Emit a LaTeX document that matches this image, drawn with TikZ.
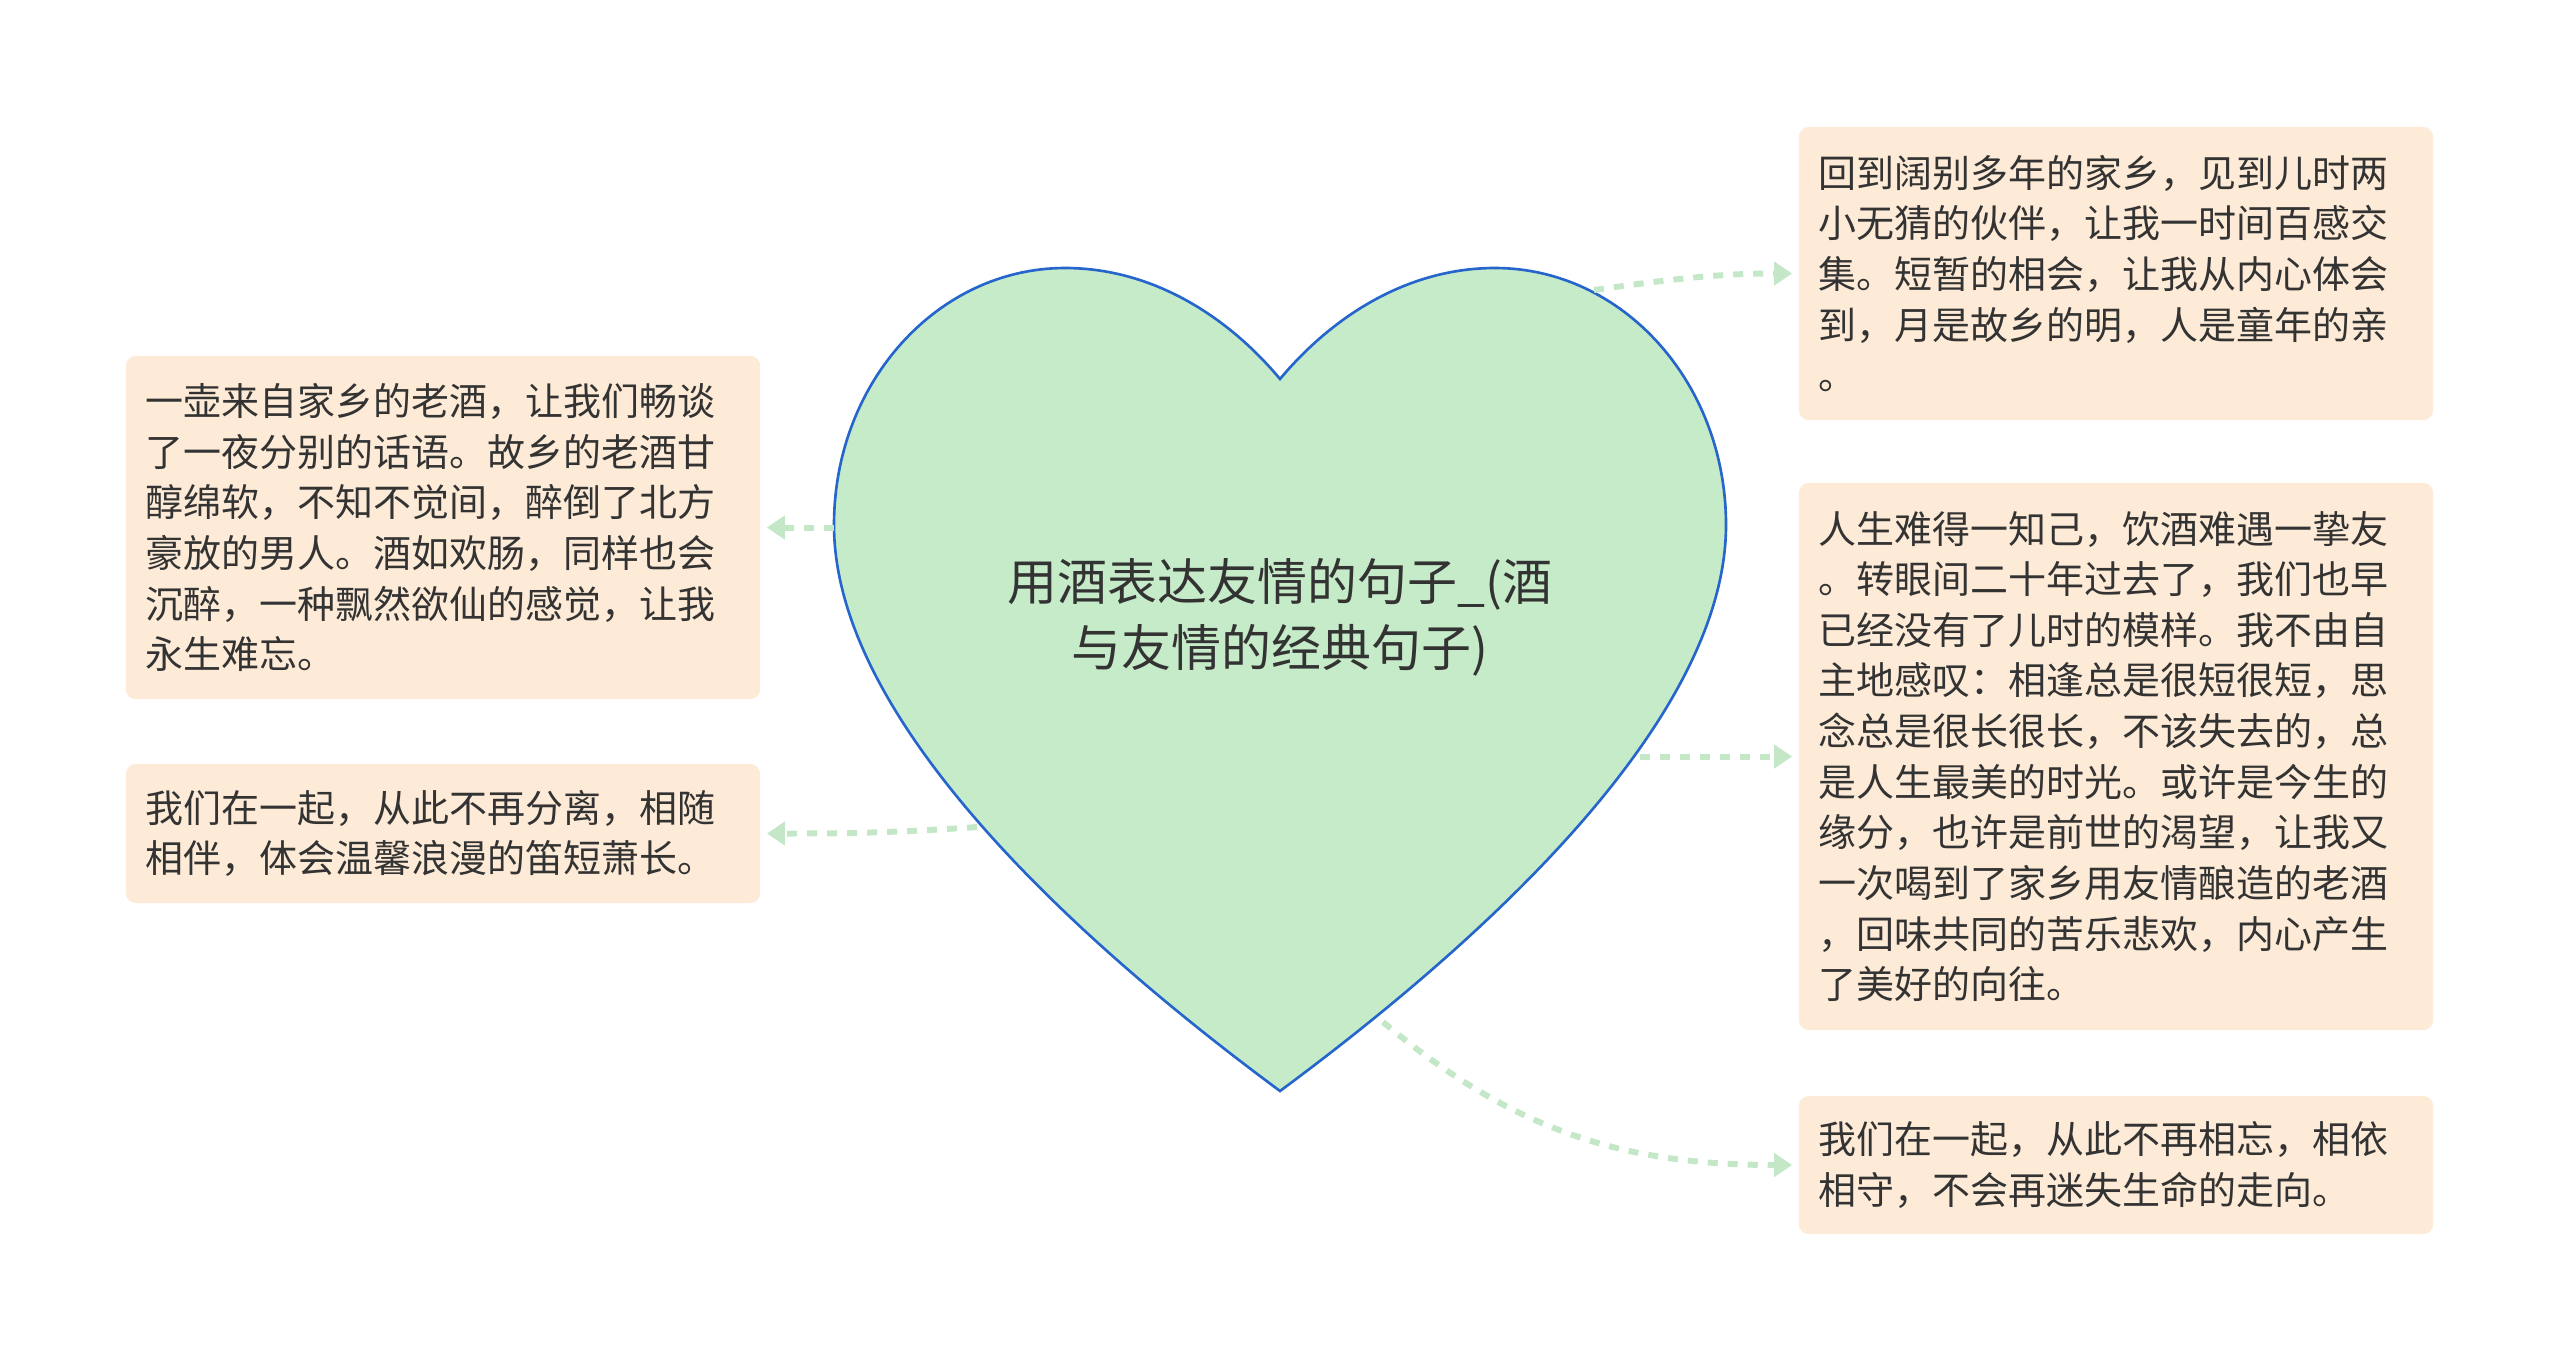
\documentclass[tikz,border=0pt]{standalone}
\usepackage{fontspec}
\setmainfont{Noto Sans CJK SC}
\usepackage{tikz}
\usetikzlibrary{arrows.meta}
\definecolor{sh_green}{RGB}{198, 235, 201}
\definecolor{sh_blue}{RGB}{38, 102, 204}
\definecolor{sh_peach}{RGB}{253, 235, 215}
\definecolor{sh_line}{RGB}{196, 232, 199}
\definecolor{sh_text}{RGB}{51, 51, 51}
\tikzstyle{tb}=[rectangle,rounded corners=0.1cm,fill=sh_peach,text=sh_text,
  align=left,text width=5.94cm,inner xsep=0.2cm,inner ysep=0pt,
  font=\fontsize{10.8}{14.4}\selectfont]
\tikzstyle{hn}=[align=center,text=sh_text,
  font=\fontsize{14.2}{18.8}\selectfont]
\tikzstyle{ln}=[draw=sh_line,line width=1.7pt,dash pattern=on 0.1cm off 0.1cm,
  -{Triangle[length=0.18cm,width=0.23cm]},shorten >=0.06cm]

\begin{document}
\begin{tikzpicture}[x=0.01cm, y=0.01cm]
        \useasboundingbox (0,0) rectangle (2560,-1363);
        % heart
        \draw[fill=sh_green, draw=sh_blue, line width=0.75pt] (1280,-379)
            .. controls (1330,-319) and (1405,-268) .. (1495,-268)
            .. controls (1622,-268) and (1726,-382) .. (1726,-525)
            .. controls (1726,-700) and (1530,-906) .. (1280,-1091)
            .. controls (1030,-906) and (834,-700) .. (834,-525)
            .. controls (834,-382) and (938,-268) .. (1065,-268)
            .. controls (1155,-268) and (1230,-319) .. (1280,-379) -- cycle;
        \node[style=hn] (0) at (1280,-617) {用酒表达友情的句子\_(酒\\与友情的经典句子)};
		\node[style=tb, minimum height=3.43cm] (1) at (443,-527.5) {一壶来自家乡的老酒，让我们畅谈\\了一夜分别的话语。故乡的老酒甘\\醇绵软，不知不觉间，醉倒了北方\\豪放的男人。酒如欢肠，同样也会\\沉醉，一种飘然欲仙的感觉，让我\\永生难忘。};
		\node[style=tb, minimum height=1.39cm] (2) at (443,-833.5) {我们在一起，从此不再分离，相随\\相伴，体会温馨浪漫的笛短萧长。};
		\node[style=tb, minimum height=2.93cm] (3) at (2116,-273.5) {回到阔别多年的家乡，见到儿时两\\小无猜的伙伴，让我一时间百感交\\集。短暂的相会，让我从内心体会\\到，月是故乡的明，人是童年的亲\\。};
		\node[style=tb, minimum height=5.47cm] (4) at (2116,-756.5) {人生难得一知己，饮酒难遇一挚友\\。转眼间二十年过去了，我们也早\\已经没有了儿时的模样。我不由自\\主地感叹：相逢总是很短很短，思\\念总是很长很长，不该失去的，总\\是人生最美的时光。或许是今生的\\缘分，也许是前世的渴望，让我又\\一次喝到了家乡用友情酿造的老酒\\，回味共同的苦乐悲欢，内心产生\\了美好的向往。};
		\node[style=tb, minimum height=1.38cm] (5) at (2116,-1165) {我们在一起，从此不再相忘，相依\\相守，不会再迷失生命的走向。};
        % ends on the heart
		\coordinate (a1) at (834,-527.5);
		\coordinate (a2) at (977,-827);
		\coordinate (a3) at (1594,-290);
		\coordinate (a4) at (1640,-756.5);
		\coordinate (a5) at (1383,-1022);
        \draw[style=ln] (a1) to (1.east);
		\draw[style=ln] [out=184, in=0] (a2) to (2.east);
		\draw[style=ln] [out=8, in=180] (a3) to (3.west);
		\draw[style=ln] (a4) to (4.west);
		\draw[style=ln] [out=-40, in=180] (a5) to (5.west);
    \end{tikzpicture}
\end{document}
